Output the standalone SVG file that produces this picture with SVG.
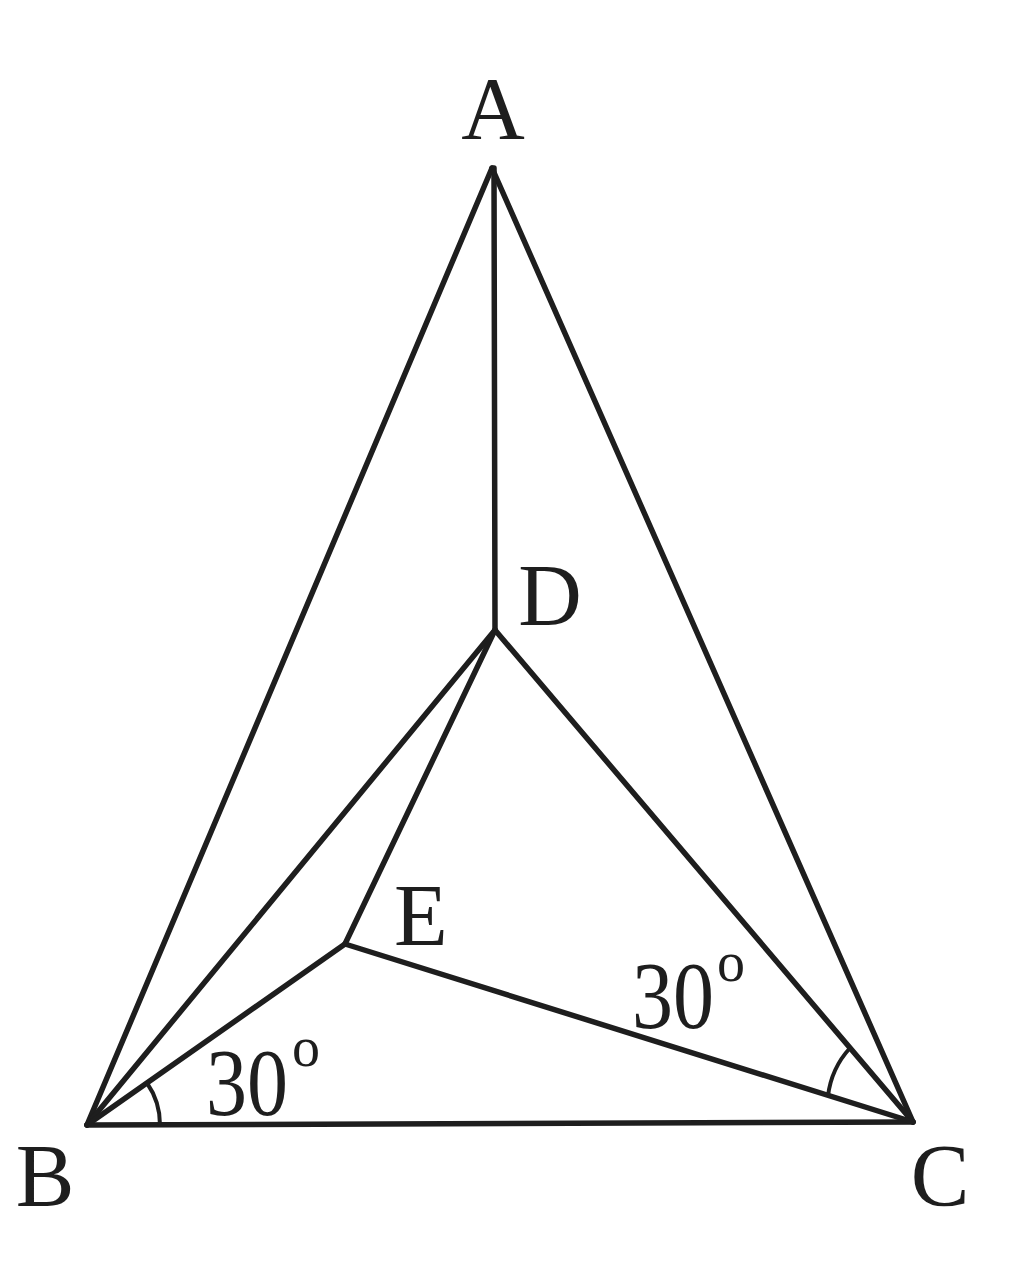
<svg xmlns="http://www.w3.org/2000/svg" width="1024" height="1280" viewBox="0 0 1024 1280">
<style>
.l{stroke:#1e1e1e;stroke-width:5.5;fill:none;stroke-linecap:round;stroke-linejoin:round}
.a{stroke:#1e1e1e;stroke-width:4;fill:none}
.t{font-family:"Liberation Serif","DejaVu Serif",serif;font-size:88px;fill:#1e1e1e}
.n{font-family:"Liberation Serif","DejaVu Serif",serif;font-size:96px;fill:#1e1e1e}
.o{font-size:56px}
</style>
<rect width="1024" height="1280" fill="#fff"/>
<g id="connectors">
<line class="l" x1="492" y1="168" x2="87" y2="1125"/>
<line class="l" x1="492" y1="168" x2="913" y2="1122"/>
<line class="l" x1="87" y1="1125" x2="913" y2="1122"/>
<line class="l" x1="494" y1="168" x2="495" y2="630"/>
<line class="l" x1="495" y1="630" x2="87" y2="1125"/>
<line class="l" x1="495" y1="630" x2="345" y2="944"/>
<line class="l" x1="495" y1="630" x2="913" y2="1122"/>
<line class="l" x1="345" y1="944" x2="87" y2="1125"/>
<line class="l" x1="345" y1="944" x2="913" y2="1122"/>
<path class="a" d="M160,1125 A73,73 0 0 0 147,1083"/>
<path class="a" d="M828,1096 A86,86 0 0 1 850,1048"/>
</g>
<g id="A"><text class="t" x="493" y="138" text-anchor="middle">A</text></g>
<g id="B"><text class="t" x="45" y="1205" text-anchor="middle">B</text></g>
<g id="C"><text class="t" x="940" y="1205" text-anchor="middle">C</text></g>
<g id="D"><text class="t" x="550" y="625" text-anchor="middle">D</text></g>
<g id="E"><text class="t" x="421" y="945" text-anchor="middle">E</text></g>
<g id="angleB"><text class="n" x="206" y="1115"><tspan textLength="82" lengthAdjust="spacingAndGlyphs">30</tspan><tspan class="o" x="292" y="1066">o</tspan></text></g>
<g id="angleC"><text class="n" x="632" y="1028"><tspan textLength="82" lengthAdjust="spacingAndGlyphs">30</tspan><tspan class="o" x="717" y="981">o</tspan></text></g>
</svg>
